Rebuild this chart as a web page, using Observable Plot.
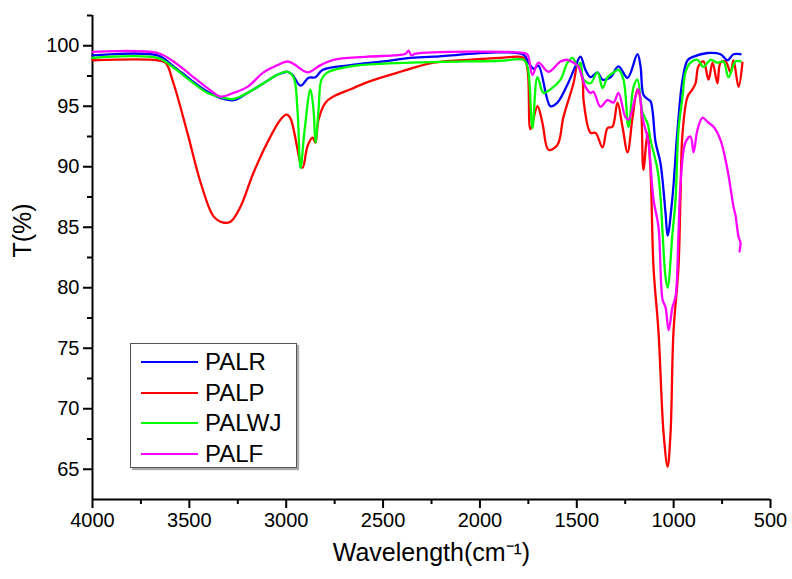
<!DOCTYPE html>
<html>
<head>
<meta charset="utf-8">
<script src="https://cdn.jsdelivr.net/npm/d3@7"></script>
<script src="https://cdn.jsdelivr.net/npm/@observablehq/plot@0.6"></script>
<style>
  html, body { margin: 0; padding: 0; background: #fff; }
  #wrap { position: relative; width: 792px; height: 579px; font-family: "Liberation Sans", Arial, sans-serif; }
  #legend { position: absolute; left: 130px; top: 343px; width: 165px; height: 123px;
    border: 1.5px solid #555; box-shadow: 2px 2px 1px #aaa; background: #fff; }
  .row { position: absolute; left: 0; height: 30px; width: 165px; }
  .sw { position: absolute; left: 10px; width: 57px; height: 0; border-top: 2.5px solid; top: 14px; }
  .lb { position: absolute; left: 74px; top: 1px; font-size: 24px; line-height: 28px; color: #000; }
</style>
</head>
<body>
<div id="wrap"></div>
<script>
// Series names and colours
const seriesNames = ["PALR", "PALP", "PALWJ", "PALF"];
const seriesColors = ["#0000ff", "#ff0000", "#00ff00", "#ff00ff"];

// Axis ticks
const xTicks = [4000, 3500, 3000, 2500, 2000, 1500, 1000, 500];
const xMinor = [3750, 3250, 2750, 2250, 1750, 1250, 750];
const yTicks = [65, 70, 75, 80, 85, 90, 95, 100];
const yMinor = [67.5, 72.5, 77.5, 82.5, 87.5, 92.5, 97.5, 102.5];

// PALR (blue)
const palrWn = [4000,3664,3582,3494,3406,3324,3272,3200,3117,3045,2993,2968,2926,2885,2849,2813,2668,2498,2358,2240,1775,1749,1723,1698,1636,1600,1548,1507,1481,1455,1429,1393,1367,1326,1285,1238,1187,1171,1156,1135,1119,1093,1068,1042,1031,1006,980,954,928,897,825,758,722,691,655];
const palrT = [99.2,99.2,98.3,97.2,96.2,95.6,95.5,96.1,96.9,97.6,97.85,97.6,96.7,97.35,97.4,98.0,98.4,98.7,99.0,99.1,99.26,98.6,98.1,98.35,95.0,95.3,96.8,98.3,99.1,98.0,97.4,97.8,97.2,97.4,98.3,97.35,99.3,98.3,95.95,95.6,95.4,92.0,90.3,86.2,84.3,87.5,93.06,97.2,98.8,99.1,99.4,99.3,98.8,99.3,99.3];

// PALP (red)
const palpWn = [4000,3664,3623,3582,3510,3442,3375,3329,3288,3236,3169,3097,3029,2998,2978,2916,2890,2864,2849,2833,2797,2756,2668,2580,2410,2240,2064,1894,1775,1754,1739,1703,1677,1646,1600,1569,1517,1496,1470,1465,1429,1403,1367,1341,1316,1290,1264,1238,1212,1187,1171,1156,1135,1119,1104,1078,1052,1031,1016,1001,975,965,954,928,903,887,872,846,820,799,774,758,732,706,691,665,645];
const palpT = [98.8,98.8,98.6,96.9,92.8,88.7,85.9,85.4,85.45,86.7,89.5,92.0,93.9,94.3,94.0,89.9,91.7,92.4,92.0,93.9,95.3,95.8,96.4,97.0,97.85,98.6,98.84,99.0,99.0,98.0,93.1,95.0,93.6,91.4,91.8,94.1,96.9,98.4,97.2,95.5,92.8,92.8,91.6,93.2,93.3,95.3,93.3,91.2,94.1,96.4,95.5,89.75,92.8,89.5,81.7,76.3,68.0,65.2,68.0,76.3,81.7,87.3,92.8,95.8,96.4,96.9,98.3,98.7,97.2,98.6,96.9,98.6,98.7,97.8,98.8,96.6,98.6];

// PALWJ (green)
const palwjWn = [4000,3664,3582,3494,3406,3324,3272,3200,3117,3045,2993,2962,2942,2926,2905,2875,2859,2849,2833,2818,2787,2668,2358,1894,1775,1754,1729,1703,1672,1636,1584,1548,1522,1496,1481,1465,1429,1393,1367,1341,1310,1285,1259,1233,1207,1187,1161,1135,1119,1083,1068,1057,1042,1031,1006,990,975,954,939,913,877,846,810,774,743,717,681,655];
const palwjT = [99.0,99.0,98.2,97.1,96.1,95.7,95.6,96.1,96.9,97.6,97.85,97.4,94.7,89.9,93.05,96.4,94.7,92.0,94.7,97.2,97.8,98.3,98.6,98.76,98.84,98.26,93.2,97.4,96.1,96.4,97.2,98.6,99.0,98.26,98.6,97.2,96.9,97.8,96.5,97.4,97.8,98.0,97.2,93.3,96.6,97.2,94.5,93.6,92.2,89.75,87.5,84.5,80.9,80.0,84.5,87.3,93.06,95.8,97.8,98.6,98.84,98.26,98.84,98.6,98.7,97.4,98.7,98.7];

// PALF (magenta)
const palfWn = [4000,3664,3582,3494,3406,3339,3272,3200,3117,3045,2993,2962,2890,2823,2756,2580,2384,2369,2353,2333,1775,1754,1729,1698,1646,1584,1548,1517,1491,1455,1429,1414,1378,1341,1310,1285,1249,1233,1197,1181,1161,1145,1130,1104,1078,1057,1042,1026,1006,990,975,965,939,913,897,877,851,825,794,758,722,691,681,665,655,660];
const palfT = [99.5,99.4,98.7,97.6,96.5,95.8,96.1,96.6,97.8,98.4,98.7,98.5,97.8,98.4,98.84,99.1,99.34,99.6,99.2,99.34,99.4,99.26,97.6,98.6,97.85,98.7,98.84,98.6,98.26,96.6,96.1,96.2,94.96,95.5,95.3,96.1,94.1,93.9,95.8,96.4,94.1,93.06,92.0,87.3,85.0,79.0,78.4,76.5,78.4,79.3,84.5,88.5,92.0,92.5,91.2,93.06,94.05,93.7,93.3,92.2,89.75,86.7,86.0,84.2,83.7,83.0];

const toRows = (wn, t) => wn.map((w, i) => ({wn: w, t: t[i]}));
const series = [toRows(palrWn, palrT), toRows(palpWn, palpT), toRows(palwjWn, palwjT), toRows(palfWn, palfT)];
const drawOrder = [1, 0, 2, 3];

const fmt = d => String(d);
const chart = Plot.plot({
  width: 792,
  height: 579,
  marginLeft: 92,
  marginRight: 22,
  marginTop: 15,
  marginBottom: 80,
  x: {domain: [4000, 500]},
  y: {domain: [62.5, 102.5]},
  style: {fontFamily: "'Liberation Sans', Arial, sans-serif", fontSize: "20px", color: "#000", background: "#fff", overflow: "visible"},
  marks: [
    Plot.axisX(xTicks, {tickSize: 9, tickPadding: 4, fontSize: 20, strokeWidth: 2, tickFormat: fmt, label: null}),
    Plot.axisX(xMinor, {tickSize: 5, strokeWidth: 2, tickFormat: () => "", label: null}),
    Plot.axisY(yTicks, {tickSize: 9, tickPadding: 4, fontSize: 20, strokeWidth: 2, tickFormat: fmt, label: null}),
    Plot.axisY(yMinor, {tickSize: 5, strokeWidth: 2, tickFormat: () => "", label: null}),
    Plot.ruleX([4000], {strokeWidth: 2}),
    Plot.ruleY([62.5], {strokeWidth: 2}),
    ...drawOrder.map(k => Plot.line(series[k], {x: "wn", y: "t", stroke: seriesColors[k], strokeWidth: 2.3, curve: "catmull-rom"})),
    Plot.text(["T(%)"], {text: d => d, frameAnchor: "left", dx: -70, rotate: -90, fontSize: 25}),
    Plot.text(["Wavelength(cm⁻¹)"], {text: d => d, frameAnchor: "bottom", dy: 61, fontSize: 25})
  ]
});

const wrap = document.getElementById("wrap");
wrap.appendChild(chart);

const legend = document.createElement("div");
legend.id = "legend";
seriesNames.forEach((name, i) => {
  const row = document.createElement("div");
  row.className = "row";
  row.style.top = (3 + i * 30.5) + "px";
  const sw = document.createElement("div");
  sw.className = "sw";
  sw.style.borderTopColor = seriesColors[i];
  const lb = document.createElement("div");
  lb.className = "lb";
  lb.textContent = name;
  row.appendChild(sw);
  row.appendChild(lb);
  legend.appendChild(row);
});
wrap.appendChild(legend);
</script>
</body>
</html>
